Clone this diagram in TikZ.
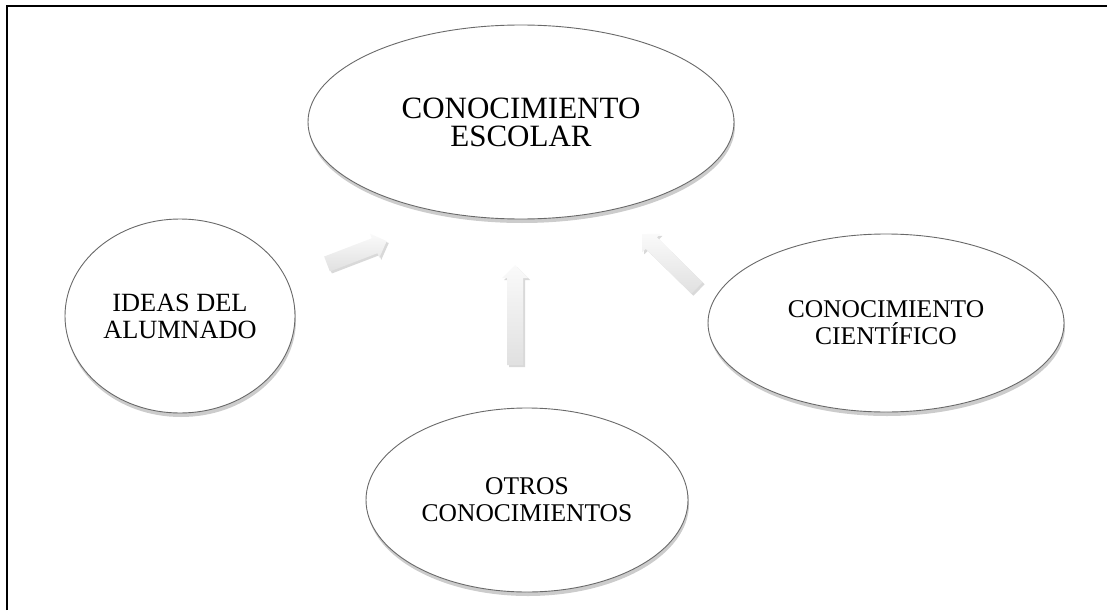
\documentclass[tikz,border=0pt]{standalone}
\usepackage{fontspec}
\setmainfont{Liberation Serif}
\usetikzlibrary{shapes.geometric,shadows}
\definecolor{rim}{RGB}{105,105,105}
\tikzset{
  bubble/.style={ellipse, draw=rim, line width=0.9pt, fill=white, inner sep=0pt,
    align=center, font=\fontsize{25.5}{27}\selectfont,
    drop shadow={shadow xshift=1pt, shadow yshift=-4pt, opacity=0.2, fill=black}},
  arrowbody/.style={top color=gray!4, bottom color=gray!24, draw=none,
    drop shadow={shadow xshift=2pt, shadow yshift=-2pt, opacity=0.15, fill=black}},
  frameline/.style={line width=1.8pt, black}
}
\newcommand\blockarrow[4]{%
  \begin{scope}[shift={#2}, rotate=#3]
    \coordinate (#1-tail) at (0,0);
    \coordinate (#1-tip) at (#4,0);
    \path[arrowbody] (0,8) -- (#4-13,8) -- (#4-13,13) -- (#1-tip)
      -- (#4-13,-13) -- (#4-13,-8) -- (0,-8) -- cycle;
  \end{scope}}
\begin{document}
\begin{tikzpicture}[x=1pt, y=-1pt]
  \useasboundingbox (0,0) rectangle (1107,610);
  \coordinate (fbl) at (7,610);
  \coordinate (ftl) at (7,6);
  \coordinate (ftr) at (1107,6);
  \draw[frameline] (fbl) -- (ftl) -- (ftr);

  \node[bubble, minimum width=426pt, minimum height=194pt, font=\fontsize{31}{28}\selectfont] (escolar) at (521,122)
    {CONOCIMIENTO\\ESCOLAR};
  \node[bubble, minimum width=230pt, minimum height=194pt, font=\fontsize{26.3}{27}\selectfont] (ideas) at (180,316)
    {IDEAS DEL\\ALUMNADO};
  \node[bubble, minimum width=356pt, minimum height=178pt] (cientifico) at (886,323)
    {CONOCIMIENTO\\CIENT\'IFICO};
  \node[bubble, minimum width=322pt, minimum height=184pt] (otros) at (527,500)
    {OTROS\\CONOCIMIENTOS};

  \blockarrow{aleft}{(327,264)}{21}{64}
  \blockarrow{amid}{(515,365)}{90}{100}
  \blockarrow{aright}{(697,288)}{135.5}{77}
\end{tikzpicture}
\end{document}
